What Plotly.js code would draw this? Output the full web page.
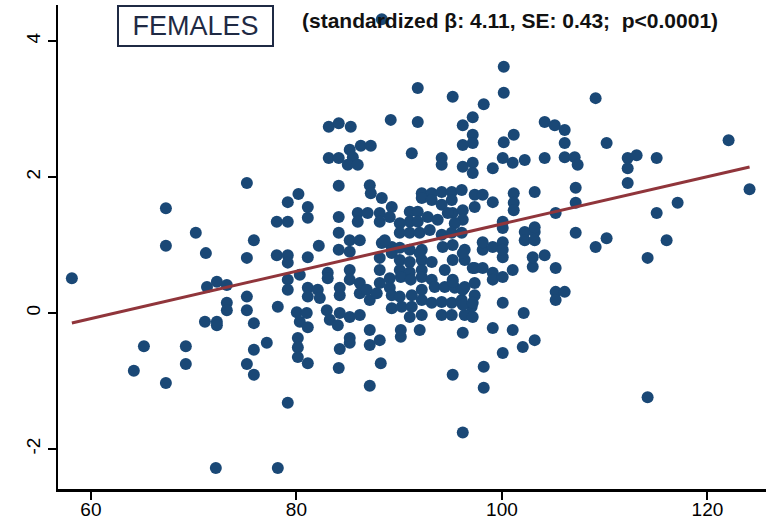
<!DOCTYPE html>
<html>
<head>
<meta charset="utf-8">
<script src="https://cdn.plot.ly/plotly-3.0.1.min.js"></script>
<style>
  html, body { margin: 0; padding: 0; background: #ffffff; }
  #chart { width: 766px; height: 528px; }
</style>
</head>
<body>
<div id="chart"></div>
<script>
// Predictor score (x) for each female participant
const xVals = [
  58.15, 64.18, 65.16, 67.30, 67.30, 67.30, 69.24, 69.24, 70.21, 71.19,
  71.30, 72.26, 73.23, 73.23, 73.23, 71.10, 72.26, 72.26, 72.16, 75.18,
  75.18, 75.18, 75.18, 75.18, 75.86, 75.86, 75.86, 75.86, 77.12, 78.09,
  79.16, 79.16, 80.20, 78.09, 79.16, 79.16, 79.16, 79.16, 80.33, 78.19,
  80.04, 81.01, 80.33, 81.11, 80.14, 80.14, 80.14, 81.11, 79.16, 78.19,
  81.11, 81.11, 81.11, 81.11, 81.11, 82.18, 82.08, 82.28, 83.15, 84.12,
  85.29, 86.27, 87.24, 85.19, 85.49, 83.15, 84.12, 85.00, 85.97, 84.12,
  87.14, 87.24, 88.31, 89.28, 84.12, 85.97, 86.94, 85.97, 88.11, 88.11,
  84.12, 84.12, 85.19, 86.17, 88.31, 89.28, 85.19, 83.05, 83.05, 85.19,
  85.19, 86.17, 84.22, 84.22, 86.17, 86.85, 87.14, 87.82, 88.11, 88.11,
  88.11, 82.96, 83.25, 84.03, 84.22, 85.19, 86.17, 87.14, 85.19, 84.22,
  85.19, 87.14, 88.11, 84.12, 88.21, 87.14, 88.31, 91.81, 91.81, 89.18,
  91.23, 95.21, 98.23, 97.16, 96.19, 97.16, 97.16, 96.19, 94.14, 94.14,
  96.19, 97.16, 97.16, 92.20, 93.17, 94.14, 95.12, 96.09, 92.20, 93.17,
  95.12, 97.35, 97.35, 94.14, 95.21, 96.19, 89.09, 91.03, 91.81, 91.03,
  91.81, 92.78, 93.75, 94.73, 96.19, 95.41, 90.06, 90.06, 91.03, 92.00,
  92.98, 94.14, 95.12, 96.09, 88.60, 89.28, 90.06, 91.03, 92.20, 94.24,
  95.21, 96.38, 95.21, 96.38, 97.35, 90.06, 90.06, 91.03, 91.03, 92.20,
  93.17, 92.20, 94.44, 95.21, 89.09, 89.09, 90.16, 91.13, 92.20, 93.17,
  93.46, 94.44, 95.41, 96.38, 97.35, 97.35, 89.28, 89.28, 90.25, 91.23,
  92.20, 91.23, 92.20, 93.17, 94.14, 95.12, 96.09, 97.06, 94.14, 95.12,
  96.38, 91.03, 92.20, 90.06, 90.16, 90.16, 92.00, 96.19, 97.16, 97.16,
  98.13, 99.11, 99.11, 100.08, 101.05, 103.00, 105.23, 105.23, 105.23, 106.11,
  95.21, 96.19, 96.19, 97.16, 100.08, 102.12, 99.11, 101.05, 102.03, 103.19,
  100.08, 98.23, 98.23, 95.21, 96.19, 92.00, 96.19, 98.13, 100.08, 103.00,
  104.16, 100.18, 100.18, 104.16, 105.14, 106.11, 106.11, 101.15, 100.18, 100.08,
  101.05, 102.22, 104.16, 106.11, 107.08, 107.37, 99.11, 103.19, 107.18, 107.18,
  98.13, 99.11, 101.15, 101.15, 101.15, 105.23, 100.08, 100.08, 102.22, 103.19,
  102.22, 103.19, 103.19, 107.18, 98.13, 99.11, 100.08, 100.08, 109.12, 110.19,
  122.06, 112.24, 113.11, 112.24, 112.24, 115.06, 124.10, 117.10, 115.06, 109.12,
  110.19, 116.03, 114.18, 114.18
];

// Standardized outcome (y) for the same participants
const yVals = [
  0.51, -0.85, -0.49, 1.54, 0.99, -1.03, -0.49, -0.75, 1.18, 0.88,
  0.38, 0.46, 0.41, 0.15, 0.04, -0.13, -0.13, -0.18, -2.28, 1.91,
  0.81, 0.24, 0.04, -0.75, 1.07, -0.15, -0.54, -0.91, -0.44, 1.34,
  1.34, 1.63, 1.75, 0.85, 0.85, 0.74, 0.49, 0.34, 0.56, 0.09,
  0.01, 0.00, -0.13, -0.21, -0.37, -0.51, -0.65, -0.74, -1.32, -2.28,
  1.56, 1.40, 0.82, 0.37, 0.24, 0.99, 0.34, 0.22, 2.74, 2.79,
  2.74, 2.46, 2.46, 2.40, 2.29, 2.28, 2.28, 2.18, 2.18, 1.87,
  1.88, 1.76, 1.69, 1.56, 1.41, 1.47, 1.47, 1.34, 1.47, 1.34,
  1.18, 0.93, 1.07, 1.07, 1.03, 0.97, 0.90, 0.59, 0.51, 0.63,
  0.49, 0.44, 0.37, 0.26, 0.29, 0.34, 0.19, 0.29, 0.44, 0.63,
  0.81, 0.04, -0.10, -0.18, 0.00, -0.06, -0.03, -0.25, -0.37, -0.53,
  -0.44, -0.47, -0.40, -0.81, -0.74, -1.07, 4.32, 3.31, 2.81, 2.84,
  2.35, 3.18, 3.07, 2.88, 2.76, 2.62, 2.50, 2.47, 2.28, 2.18,
  2.15, 2.21, 2.06, 1.76, 1.76, 1.78, 1.78, 1.81, 1.69, 1.66,
  1.66, 1.74, 1.56, 1.59, 1.47, 1.51, 1.41, 1.49, 1.49, 1.34,
  1.34, 1.41, 1.37, 1.47, 1.37, 1.32, 1.32, 1.18, 1.18, 1.18,
  1.22, 1.15, 1.18, 1.18, 1.07, 0.88, 0.96, 0.93, 0.93, 0.97,
  1.00, 0.93, 0.78, 0.78, 0.66, 0.78, 0.63, 0.75, 0.60, 0.78,
  0.75, 0.63, 0.63, 0.49, 0.51, 0.37, 0.53, 0.49, 0.53, 0.49,
  0.38, 0.38, 0.37, 0.38, 0.44, 0.26, 0.26, 0.07, 0.09, 0.26,
  0.34, 0.09, 0.19, 0.15, 0.16, 0.15, 0.19, 0.09, -0.03, -0.03,
  -0.03, -0.06, -0.03, 0.24, -0.35, -0.25, -0.25, -0.29, -0.06, 0.66,
  0.66, 0.59, 0.49, 0.53, 0.63, 0.68, 0.66, 0.31, 0.19, 0.31,
  0.46, 0.34, 0.12, 0.15, 0.15, 0.00, -0.22, -0.25, -0.50, -0.40,
  -0.59, -0.79, -1.10, -0.91, -1.76, 0.88, 0.88, 0.93, 0.82, 0.82,
  0.85, 3.62, 3.24, 2.81, 2.76, 2.69, 2.50, 2.62, 2.51, 2.28,
  2.21, 2.25, 2.28, 2.29, 2.29, 2.18, 2.13, 1.78, 1.84, 1.62,
  1.74, 1.63, 1.76, 1.62, 1.51, 1.47, 1.34, 1.25, 1.19, 1.19,
  1.07, 1.07, 1.26, 1.18, 1.04, 0.97, 1.04, 0.93, 3.16, 2.50,
  2.54, 2.28, 2.32, 2.13, 1.91, 2.28, 1.82, 1.62, 1.47, 0.97,
  1.10, 1.07, 0.81, -1.24
];

// Linear fit (y = intercept + slope * x)
const fitIntercept = -2.171;
const fitSlope = 0.0348;

const xTicks = [60, 80, 100, 120];
const yTicks = [-2, 0, 2, 4];
const yTickText = ['-2', '0', '2', '4'];

const panelLabel = 'FEMALES';
const statsLabel = '(standardized \u03b2: 4.11, SE: 0.43;&nbsp; p<0.0001)';

const xMin = Math.min(...xVals);
const xMax = Math.max(...xVals);
const fitX = [xMin, xMax];
const fitY = fitX.map(v => fitIntercept + fitSlope * v);

const font = 'Liberation Sans, Arial, Helvetica, sans-serif';

const traces = [
  {
    type: 'scatter',
    mode: 'markers',
    x: xVals,
    y: yVals,
    marker: { color: '#1a4876', size: 12, line: { width: 0 } },
    hoverinfo: 'x+y',
    showlegend: false
  },
  {
    type: 'scatter',
    mode: 'lines',
    x: fitX,
    y: fitY,
    line: { color: '#90353b', width: 3 },
    hoverinfo: 'skip',
    showlegend: false
  }
];

const layout = {
  width: 766,
  height: 528,
  margin: { l: 58, r: 0, t: 5, b: 39, pad: 0 },
  paper_bgcolor: '#ffffff',
  plot_bgcolor: '#ffffff',
  font: { family: font, color: '#000000', size: 20 },
  showlegend: false,
  xaxis: {
    range: [56.8, 125.7],
    tickvals: xTicks,
    ticktext: xTicks.map(String),
    ticks: 'outside',
    ticklen: 8,
    tickwidth: 2,
    tickcolor: '#000000',
    ticklabelstandoff: -6,
    showline: true,
    linecolor: '#000000',
    linewidth: 2.5,
    showgrid: false,
    zeroline: false,
    tickfont: { family: font, size: 19, color: '#000000' }
  },
  yaxis: {
    range: [-2.59, 4.53],
    tickvals: yTicks,
    ticktext: yTickText,
    tickangle: -90,
    ticks: 'outside',
    ticklen: 8,
    tickwidth: 2,
    tickcolor: '#000000',
    showline: true,
    linecolor: '#000000',
    linewidth: 2.5,
    showgrid: false,
    zeroline: false,
    tickfont: { family: font, size: 19, color: '#000000' }
  },
  annotations: [
    {
      xref: 'paper', yref: 'paper',
      x: 0.0833, y: 1,
      xanchor: 'left', yanchor: 'top',
      text: panelLabel,
      showarrow: false,
      width: 151, height: 36,
      borderpad: 1,
      bordercolor: '#1f2a44',
      borderwidth: 2,
      bgcolor: '#ffffff',
      font: { family: font, size: 27, color: '#1f2a44' }
    },
    {
      xref: 'paper', yref: 'paper',
      x: 0.638, y: 0.969,
      xanchor: 'center', yanchor: 'middle',
      text: '<b>' + statsLabel + '</b>',
      showarrow: false,
      font: { family: font, size: 21, color: '#111111' }
    }
  ]
};

Plotly.newPlot('chart', traces, layout, { staticPlot: true, displayModeBar: false });
</script>
</body>
</html>
